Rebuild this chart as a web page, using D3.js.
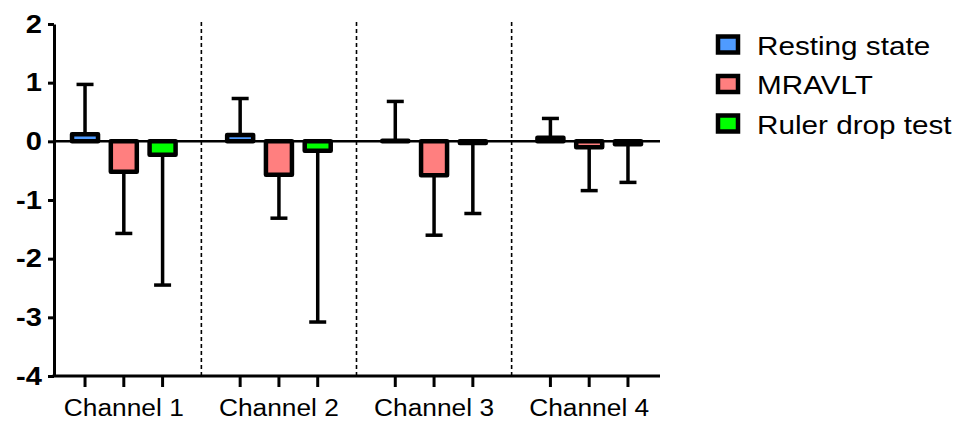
<!DOCTYPE html>
<html>
<head>
<meta charset="utf-8">
<script src="https://cdn.jsdelivr.net/npm/d3@7"></script>
<style>
  html, body { margin: 0; padding: 0; background: #fff; }
  svg { display: block; font-family: Arial, "Liberation Sans", sans-serif; }
</style>
</head>
<body>
<svg id="chart" width="962" height="421"></svg>
<script>
// Channels on the x axis, three conditions per channel
const channels = ["Channel 1", "Channel 2", "Channel 3", "Channel 4"];
const seriesNames = ["Resting state", "MRAVLT", "Ruler drop test"];
const seriesColors = ["#4F9BFF", "#FF7F7F", "#00FF00"];

// Mean values and one-sided error (SD) per channel
const restingMean = [0.12, 0.11, 0.01, 0.06];
const restingErr  = [0.85, 0.62, 0.67, 0.33];
const mravltMean  = [-0.52, -0.57, -0.58, -0.10];
const mravltErr   = [1.05, 0.74, 1.02, 0.74];
const rulerMean   = [-0.23, -0.16, -0.03, -0.05];
const rulerErr    = [2.22, 2.92, 1.20, 0.65];

const yTicks = [-4, -3, -2, -1, 0, 1, 2];

(function () {
  const means = [restingMean, mravltMean, rulerMean];
  const errs = [restingErr, mravltErr, rulerErr];

  const rows = [];
  channels.forEach((c, i) => {
    seriesNames.forEach((s, j) => {
      rows.push({ channel: c, series: s, color: seriesColors[j], value: means[j][i], err: errs[j][i] });
    });
  });

  const svg = d3.select("#chart");
  const plotL = 54, plotR = 659, plotT = 24, plotB = 376;
  const sx = 1.12; // horizontal stretch of text glyphs

  const y = d3.scaleLinear().domain([-4, 2]).range([plotB, plotT]);
  const x0 = d3.scaleBand().domain(channels).range([plotL, plotR]).paddingInner(0.25).paddingOuter(0.075);
  const x1 = d3.scaleBand().domain(seriesNames).range([0, x0.bandwidth()]);
  const barW = 26;
  const center = d => x0(d.channel) + x1(d.series) + x1.bandwidth() / 2;

  // Dashed separators between channel groups
  const seps = channels.slice(1).map((c, i) => (x0(channels[i]) + x0.bandwidth() + x0(c)) / 2);
  svg.append("g").selectAll("line").data(seps).join("line")
    .attr("x1", d => d).attr("x2", d => d)
    .attr("y1", plotT - 2).attr("y2", plotB)
    .attr("stroke", "#000").attr("stroke-width", 1.6)
    .attr("stroke-dasharray", "4,3");

  // Zero reference line
  svg.append("line")
    .attr("x1", plotL).attr("x2", plotR + 1)
    .attr("y1", y(0)).attr("y2", y(0))
    .attr("stroke", "#000").attr("stroke-width", 2.5);

  // Error bars (one-sided, in direction of the bar)
  const eb = svg.append("g");
  rows.forEach(d => {
    const dir = d.value >= 0 ? 1 : -1;
    const end = d.value + dir * d.err;
    const cx = center(d);
    eb.append("line")
      .attr("x1", cx).attr("x2", cx)
      .attr("y1", y(d.value)).attr("y2", y(end))
      .attr("stroke", "#000").attr("stroke-width", 3.5);
    eb.append("line")
      .attr("x1", cx - 8.5).attr("x2", cx + 8.5)
      .attr("y1", y(end)).attr("y2", y(end))
      .attr("stroke", "#000").attr("stroke-width", 3.5);
  });

  // Bars
  svg.append("g").selectAll("rect").data(rows).join("rect")
    .attr("x", d => center(d) - barW / 2)
    .attr("width", barW)
    .attr("y", d => y(Math.max(0, d.value)))
    .attr("height", d => Math.abs(y(d.value) - y(0)))
    .attr("fill", d => d.color)
    .attr("stroke", "#000").attr("stroke-width", 4.5)
    .attr("stroke-linejoin", "round");

  // Y axis
  const yAxis = svg.append("g")
    .attr("transform", `translate(${plotL},0)`)
    .call(d3.axisLeft(y).tickValues(yTicks).tickSize(6).tickSizeOuter(0).tickFormat(d => String(d)));
  yAxis.select(".domain").attr("stroke-width", 3);
  yAxis.selectAll(".tick line").attr("stroke-width", 3);
  yAxis.selectAll(".tick text")
    .attr("font-size", 26).attr("font-weight", "bold")
    .attr("font-family", "Arial, 'Liberation Sans', sans-serif")
    .attr("fill", "#000")
    .attr("x", -12 / sx)
    .attr("transform", `scale(${sx},1)`);

  // X axis line with ticks under each bar
  svg.append("line")
    .attr("x1", plotL - 1.5).attr("x2", plotR + 1)
    .attr("y1", plotB).attr("y2", plotB)
    .attr("stroke", "#000").attr("stroke-width", 3);
  svg.append("g").selectAll("line").data(rows).join("line")
    .attr("x1", d => center(d)).attr("x2", d => center(d))
    .attr("y1", plotB).attr("y2", plotB + 11)
    .attr("stroke", "#000").attr("stroke-width", 3);

  // Channel labels
  svg.append("g").selectAll("text").data(channels).join("text")
    .attr("transform", c => `translate(${x0(c) + x0.bandwidth() / 2},416) scale(${sx},1)`)
    .attr("text-anchor", "middle")
    .attr("font-size", 23.5)
    .attr("fill", "#000")
    .text(c => c);

  // Legend
  const lg = svg.append("g").attr("transform", "translate(718,0)");
  seriesNames.forEach((s, i) => {
    const cy = 45 + i * 39.5;
    lg.append("rect")
      .attr("x", 0).attr("y", cy - 8.5).attr("width", 20).attr("height", 16)
      .attr("fill", seriesColors[i]).attr("stroke", "#000").attr("stroke-width", 4.5);
    lg.append("text")
      .attr("transform", `translate(39,${cy + 9.5}) scale(${sx},1)`)
      .attr("font-size", 26.5).attr("fill", "#000")
      .text(s);
  });
})();
</script>
</body>
</html>
